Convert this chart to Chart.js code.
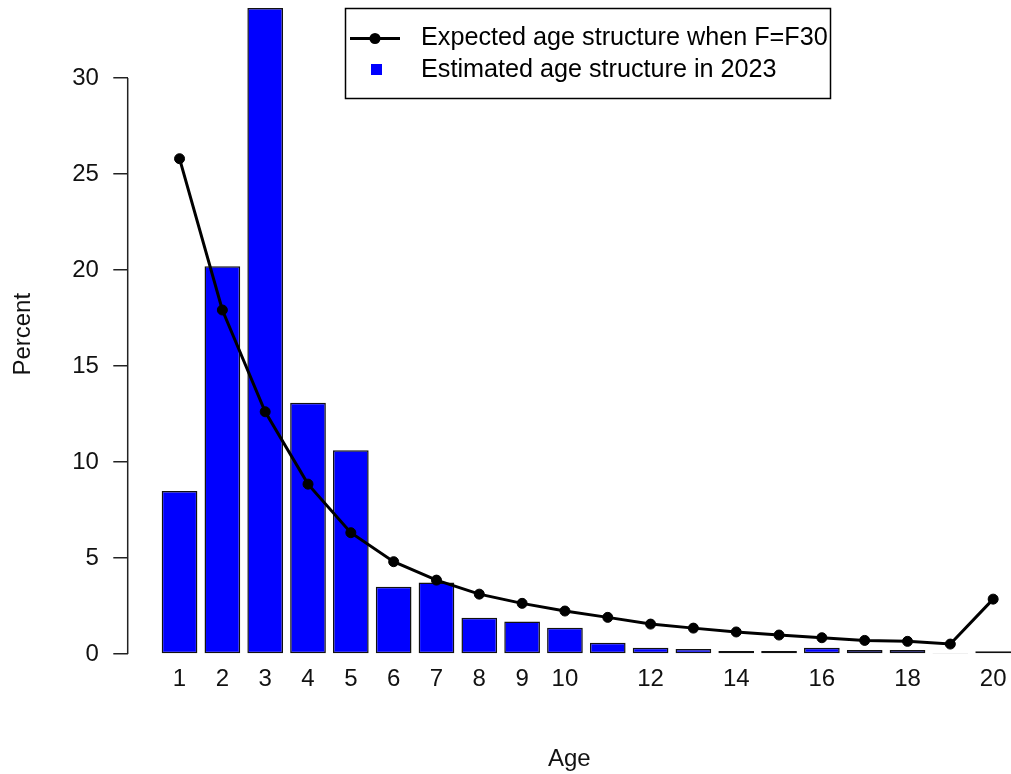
<!DOCTYPE html>
<html>
<head>
<meta charset="utf-8">
<script src="https://cdn.jsdelivr.net/npm/chart.js@4/dist/chart.umd.min.js"></script>
<style>
  html, body { margin: 0; padding: 0; background: #fff; overflow: hidden; }
  #wrap { width: 1011px; height: 774px; position: relative; }
</style>
</head>
<body>
<div id="wrap"><canvas id="c" width="1011" height="774"></canvas></div>
<script>
// ---- data ----
const ages = [1,2,3,4,5,6,7,8,9,10,11,12,13,14,15,16,17,18,19,20];
const xTickLabels = ["1","2","3","4","5","6","7","8","9","10","","12","","14","","16","","18","","20"];
const estimated2023 = [8.49, 20.2, 33.65, 13.09, 10.62, 3.51, 3.72, 1.89, 1.70, 1.37,
                       0.59, 0.33, 0.26, 0.16, 0.16, 0.33, 0.21, 0.21, 0.03, 0.15];
const expectedF30 = [25.8, 17.92, 12.62, 8.85, 6.32, 4.81, 3.85, 3.12, 2.64, 2.24,
                     1.91, 1.56, 1.35, 1.15, 0.99, 0.85, 0.71, 0.66, 0.52, 2.86];
const yTicks = [0, 5, 10, 15, 20, 25, 30];
const lineLabel = "Expected age structure when F=F30";
const barLabel = "Estimated age structure in 2023";

const FONT = "'Liberation Sans', Arial, Helvetica, sans-serif";

const decor = {
  id: 'decor',
  afterDraw(chart) {
    const ctx = chart.ctx;
    const y = chart.scales.y;
    const x0 = chart.chartArea.left;
    ctx.save();
    ctx.strokeStyle = '#222';
    ctx.lineWidth = 1.5;
    ctx.beginPath();
    ctx.moveTo(x0, y.getPixelForValue(yTicks[0]));
    ctx.lineTo(x0, y.getPixelForValue(yTicks[yTicks.length - 1]));
    ctx.stroke();

    // legend box
    const bx = 345.5, by = 8.5, bw = 485, bh = 90;
    ctx.fillStyle = '#fff';
    ctx.fillRect(bx, by, bw, bh);
    ctx.strokeStyle = '#000';
    ctx.lineWidth = 1.5;
    ctx.strokeRect(bx, by, bw, bh);

    const r1 = 38.5, r2 = 70;
    ctx.strokeStyle = '#000';
    ctx.lineWidth = 3;
    ctx.beginPath();
    ctx.moveTo(350, r1);
    ctx.lineTo(400, r1);
    ctx.stroke();
    ctx.fillStyle = '#000';
    ctx.beginPath();
    ctx.arc(375, r1, 5.5, 0, Math.PI * 2);
    ctx.fill();

    ctx.fillStyle = '#0000ff';
    ctx.fillRect(371, 64, 11, 11);

    ctx.fillStyle = '#000';
    ctx.font = '25.2px ' + FONT;
    ctx.textBaseline = 'middle';
    ctx.textAlign = 'left';
    ctx.fillText(lineLabel, 421, r1);
    ctx.fillText(barLabel, 421, r2);
    ctx.restore();
  }
};

new Chart(document.getElementById('c'), {
  data: {
    labels: ages,
    datasets: [
      {
        type: 'line',
        label: lineLabel,
        data: ages.map((a, i) => ({ x: a, y: expectedF30[i] })),
        borderColor: '#000',
        backgroundColor: '#000',
        borderWidth: 3,
        pointRadius: 5,
        pointBorderWidth: 1,
        pointBackgroundColor: '#000',
        pointBorderColor: '#000',
        tension: 0,
        order: 0,
        clip: false
      },
      {
        type: 'bar',
        label: barLabel,
        data: ages.map((a, i) => ({ x: a, y: estimated2023[i] })),
        backgroundColor: '#0000ff',
        borderColor: '#111',
        borderWidth: 1.5,
        borderSkipped: false,
        categoryPercentage: 1,
        barPercentage: 1 / 1.2,
        order: 1,
        clip: false
      }
    ]
  },
  plugins: [decor],
  options: {
    responsive: false,
    animation: false,
    devicePixelRatio: 1,
    layout: { padding: { top: 8, left: 0, right: 0, bottom: 0 }, autoPadding: false },
    plugins: { legend: { display: false }, tooltip: { enabled: false } },
    scales: {
      x: {
        type: 'linear',
        offset: false,
        min: -0.2107,
        max: 20.4167,
        grid: { display: false, drawTicks: false },
        border: { display: false },
        afterBuildTicks: (s) => { s.ticks = ages.map(v => ({ value: v })); },
        afterFit: (s) => { s.height = 113.5; s.paddingLeft = 0; s.paddingRight = 0; },
        ticks: {
          autoSkip: false,
          maxRotation: 0,
          padding: 4,
          color: '#111',
          font: { family: FONT, size: 24 },
          callback: (v, i) => xTickLabels[i]
        },
        title: {
          display: true,
          text: 'Age',
          color: '#111',
          font: { family: FONT, size: 24 },
          padding: { top: 0, bottom: 0 }
        }
      },
      y: {
        type: 'linear',
        min: -0.3365,
        max: 33.65,
        grid: { display: true, drawOnChartArea: false, drawTicks: true, tickLength: 14.4, color: '#222', lineWidth: 1.5 },
        border: { display: false },
        afterBuildTicks: (s) => { s.ticks = yTicks.map(v => ({ value: v })); },
        afterFit: (s) => { s.width = 127.7; s.paddingTop = 0; s.paddingBottom = 0; },
        ticks: {
          padding: 14.4,
          color: '#111',
          font: { family: FONT, size: 24 }
        },
        title: {
          display: true,
          text: 'Percent',
          color: '#111',
          font: { family: FONT, size: 24 },
          padding: { top: 9 }
        }
      }
    }
  }
});
</script>
</body>
</html>
